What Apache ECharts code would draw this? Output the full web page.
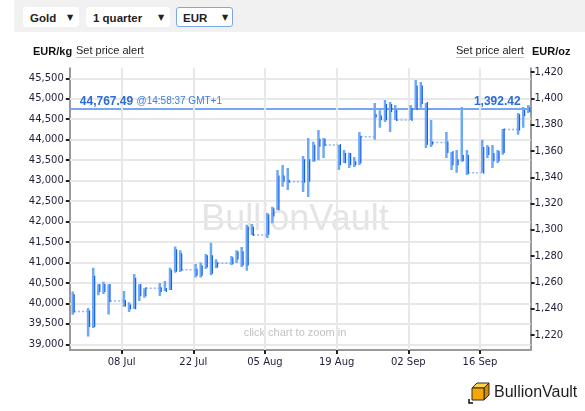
<!DOCTYPE html>
<html lang="en">
  <head>
    <meta charset="utf-8" />
    <title>Gold price in EUR - 1 quarter</title>
    <script src="https://cdn.jsdelivr.net/npm/echarts@6/dist/echarts.min.js"></script>
    <style>
      body {
        margin: 0;
        background: #fff;
        font-family: "Liberation Sans", Arial, sans-serif;
      }
      #chart {
        position: absolute;
        left: 0;
        top: 0;
        width: 585px;
        height: 411px;
      }
      .toolbar {
        position: absolute;
        left: 14px;
        top: 0;
        width: 571px;
        height: 32px;
        background: #f1f1f1;
        z-index: 2;
      }
      .dd {
        position: absolute;
        top: 7px;
        height: 20px;
        line-height: 20px;
        background: #fff;
        border: 1px solid #fff;
        border-radius: 3px;
        box-sizing: border-box;
        font-size: 11.5px;
        font-weight: bold;
        color: #222;
        padding-left: 6px;
      }
      .dd .arr {
        position: absolute;
        top: 0;
        font-size: 8px;
        font-family: "DejaVu Sans", sans-serif;
      }
      .dd.on {
        border-color: #7aa7ee;
      }
      .hd {
        position: absolute;
        top: 44px;
        font-size: 11px;
        line-height: 14px;
        color: #222;
        z-index: 2;
      }
      .hd.b {
        font-weight: bold;
        color: #111;
      }
      .hd.u {
        border-bottom: 1px solid #c4c4c4;
        line-height: 13px;
      }
    </style>
  </head>

  <body>
    <div id="chart"></div>
    <div class="toolbar"></div>
    <div class="dd" style="left: 23px; width: 56px; z-index: 3">
      Gold<span class="arr" style="left: 43px">&#9660;</span>
    </div>
    <div class="dd" style="left: 86px; width: 84px; z-index: 3">
      1 quarter<span class="arr" style="left: 71px">&#9660;</span>
    </div>
    <div class="dd on" style="left: 176px; width: 57px; z-index: 3">
      EUR<span class="arr" style="left: 45px">&#9660;</span>
    </div>
    <div class="hd b" style="left: 33px">EUR/kg</div>
    <div class="hd u" style="left: 76px">Set price alert</div>
    <div class="hd u" style="left: 456px">Set price alert</div>
    <div class="hd b" style="left: 532px">EUR/oz</div>

    <script type="text/javascript">
      // daily prices, EUR/kg
      var dates = [
        "2019-06-28",
        "2019-07-01", "2019-07-02", "2019-07-03", "2019-07-04", "2019-07-05",
        "2019-07-08", "2019-07-09", "2019-07-10", "2019-07-11", "2019-07-12",
        "2019-07-15", "2019-07-16", "2019-07-17", "2019-07-18", "2019-07-19",
        "2019-07-22", "2019-07-23", "2019-07-24", "2019-07-25", "2019-07-26",
        "2019-07-29", "2019-07-30", "2019-07-31", "2019-08-01", "2019-08-02",
        "2019-08-05", "2019-08-06", "2019-08-07", "2019-08-08", "2019-08-09",
        "2019-08-12", "2019-08-13", "2019-08-14", "2019-08-15", "2019-08-16",
        "2019-08-19", "2019-08-20", "2019-08-21", "2019-08-22", "2019-08-23",
        "2019-08-26", "2019-08-27", "2019-08-28", "2019-08-29", "2019-08-30",
        "2019-09-02", "2019-09-03", "2019-09-04", "2019-09-05", "2019-09-06",
        "2019-09-09", "2019-09-10", "2019-09-11", "2019-09-12", "2019-09-13",
        "2019-09-16", "2019-09-17", "2019-09-18", "2019-09-19", "2019-09-20",
        "2019-09-23", "2019-09-24", "2019-09-25"
      ];
      var opens = [
        40200,
        39800, 39450, 40450, 40300, 40450,
        40060, 39950, 39880, 40450, 40200,
        40370, 40300, 40350, 40800, 41200,
        40820, 40700, 40900, 41150, 40900,
        40980, 41100, 41250, 40950, 41850,
        41700, 42150, 42300, 43100, 43000,
        42970, 43500, 43500, 43850, 44000,
        43870, 43450, 43650, 43400, 43450,
        44600, 44570, 44500, 44850, 44700,
        44480, 44750, 45300, 44900, 43900,
        43930, 43700, 43400, 43500, 43600,
        43190, 43800, 43650, 43500, 43700,
        44250, 44600, 44700
      ];
      var closes = [
        39800,
        39450, 40650, 40300, 40450, 40060,
        39950, 39880, 40600, 40200, 40370,
        40300, 40350, 40800, 41300, 40820,
        40700, 40900, 41150, 40750, 40980,
        41100, 41250, 40950, 41850, 41670,
        42150, 42300, 43100, 43000, 42970,
        43500, 43000, 43850, 44000, 43870,
        43400, 43650, 43400, 43450, 44070,
        44570, 44500, 44850, 44700, 44480,
        44750, 45300, 44900, 43900, 43930,
        43700, 43400, 43500, 43600, 43190,
        43800, 43650, 43500, 43700, 44250,
        44600, 44700, 44770
      ];
      var lows = [
        39720,
        39190, 39400, 40200, 40230, 39730,
        39920, 39790, 39860, 40060, 40140,
        40180, 40300, 40330, 40750, 40770,
        40630, 40630, 40840, 40690, 40860,
        40940, 40990, 40890, 40800, 41670,
        41600, 41960, 42280, 42850, 42770,
        42720, 42600, 43460, 43500, 43550,
        43260, 43430, 43310, 43330, 43380,
        44000, 44290, 44430, 44190, 44480,
        44480, 44730, 44780, 43800, 43820,
        43550, 43260, 43190, 43460, 43140,
        43190, 43550, 43310, 43430, 43630,
        44120, 44290, 44650
      ];
      var highs = [
        40290,
        39890, 40870, 40470, 40530, 40470,
        40300, 40030, 40720, 40470, 40370,
        40500, 40550, 40870, 41390, 41300,
        40960, 41000, 41210, 41480, 41080,
        41160, 41300, 41380, 41920, 41940,
        42210, 42360, 43260, 43380, 43310,
        43600, 44040, 43950, 44240, 44040,
        43870, 43750, 43680, 43580, 44190,
        44900, 44720, 44970, 44920, 44850,
        44850, 45460, 45410, 44900, 44480,
        44190, 43700, 43750, 44800, 43750,
        44000, 43870, 43870, 43750, 44260,
        44650, 44800, 44850
      ];

      var tickDates = ["2019-07-08", "2019-07-22", "2019-08-05", "2019-08-19", "2019-09-02", "2019-09-16"];
      var tickLabels = ["08 Jul", "22 Jul", "05 Aug", "19 Aug", "02 Sep", "16 Sep"];
      var kgTicks = [39000, 39500, 40000, 40500, 41000, 41500, 42000, 42500, 43000, 43500, 44000, 44500, 45000, 45500];
      var ozTicks = [1220, 1240, 1260, 1280, 1300, 1320, 1340, 1360, 1380, 1400, 1420];

      var lastKg = 44767.49;
      var lastOz = 1392.42;
      var lastTime = "@14:58:37 GMT+1";

      var OZ_PER_KG = 32.1507;
      var kgMin = 38861;
      var kgMax = 45745;
      var viewStart = "2019-06-27T21:00:00Z";
      var viewEnd = "2019-09-25T21:30:00Z";

      var DAY = 86400000;
      var origin = Date.parse("2019-07-08");
      function dayNum(s) {
        return (Date.parse(s) - origin) / DAY;
      }
      function fmt(v, d) {
        return v.toLocaleString("en-US", { minimumFractionDigits: d, maximumFractionDigits: d });
      }

      var bars = [];
      for (var i = 0; i < dates.length; ++i) {
        bars.push([dayNum(dates[i]) + 0.5, opens[i], closes[i], lows[i], highs[i]]);
      }
      // dotted link over weekends, at Friday's close
      var gaps = [];
      for (var i = 1; i < dates.length; ++i) {
        var a = dayNum(dates[i - 1]);
        var b = dayNum(dates[i]);
        if (b - a > 1) {
          gaps.push([a + 0.7, closes[i - 1]], [b + 0.3, closes[i - 1]], [b + 0.5, "-"]);
        }
      }
      var tickX = tickDates.map(dayNum);
      // tick steps taken from the tick label lists
      var kgStep = kgTicks[1] - kgTicks[0];
      var ozStep = ozTicks[1] - ozTicks[0];

      var gridStyle = { color: "#e8e8e8", width: 2, type: "solid" };
      var priceStyle = { color: "#78a7ef", width: 2, type: "solid" };
      var boldBlue = { fontFamily: "Liberation Sans", fontSize: 12, fontWeight: "bold", color: "#2b6cd8" };
      var noText = { show: true, formatter: function () { return ""; } };

      // horizontal grid lines, last price line, vertical grid lines
      var lines = kgTicks.map(function (v) {
        return { yAxis: v, lineStyle: gridStyle, label: noText };
      });
      lines.push(
        {
          yAxis: lastKg,
          lineStyle: priceStyle,
          label: {
            show: true,
            position: "insideStartTop",
            distance: [10, 1],
            formatter: "{v|" + fmt(lastKg, 2) + "} {t|" + lastTime + "}",
            rich: {
              v: boldBlue,
              t: { fontFamily: "Liberation Sans", fontSize: 10, color: "#3b7ee2" },
            },
          },
        },
        {
          yAxis: lastKg,
          lineStyle: priceStyle,
          label: {
            show: true,
            position: "insideEndTop",
            distance: [10, 1],
            formatter: "{v|" + fmt(lastOz, 2) + "}",
            rich: { v: boldBlue },
          },
        }
      );
      tickX.forEach(function (v) {
        lines.push({ xAxis: v, lineStyle: gridStyle, label: noText });
      });

      var labelFont = { color: "#1e1e3a", fontSize: 10, fontFamily: "DejaVu Sans" };

      var myChart = echarts.init(document.getElementById("chart"));
      myChart.setOption({
        animation: false,
        grid: {
          left: 69.8,
          right: 54.4,
          top: 68.3,
          bottom: 61,
          outerBoundsMode: "none",
        },
        xAxis: {
          type: "value",
          min: dayNum(viewStart),
          max: dayNum(viewEnd),
          axisLine: { show: true, onZero: false, lineStyle: { color: "#9a9a9a", width: 2 } },
          axisTick: { show: true, customValues: tickX, length: 4, lineStyle: { color: "#222", width: 2 } },
          axisLabel: Object.assign({
            customValues: tickX,
            margin: 7,
            formatter: function (v) {
              var k = tickX.indexOf(v);
              return k < 0 ? "" : tickLabels[k];
            },
          }, labelFont),
          splitLine: { show: false },
        },
        yAxis: [
          {
            type: "value",
            position: "left",
            min: kgMin,
            max: kgMax,
            splitNumber: kgTicks.length,
            minInterval: kgStep,
            maxInterval: kgStep,
            axisLine: { show: true, onZero: false, lineStyle: { color: "#9a9a9a", width: 2 } },
            axisTick: { show: true, length: 4, lineStyle: { color: "#222", width: 2 } },
            axisLabel: Object.assign({
              showMinLabel: false,
              showMaxLabel: false,
              margin: 6,
              formatter: function (v) { return fmt(v, 0); },
            }, labelFont),
            splitLine: { show: true, showMinLine: false, showMaxLine: false, lineStyle: gridStyle },
          },
          {
            type: "value",
            position: "right",
            min: kgMin / OZ_PER_KG,
            max: kgMax / OZ_PER_KG,
            splitNumber: ozTicks.length,
            minInterval: ozStep,
            maxInterval: ozStep,
            axisLine: { show: true, onZero: false, lineStyle: { color: "#9a9a9a", width: 2 } },
            axisTick: { show: true, length: 4, lineStyle: { color: "#222", width: 2 } },
            axisLabel: Object.assign({
              showMinLabel: false,
              showMaxLabel: false,
              margin: 4,
              formatter: function (v) { return fmt(v, 0); },
            }, labelFont),
            splitLine: { show: false },
          },
        ],
        graphic: [
          {
            type: "text",
            x: 295,
            y: 220,
            z: 1,
            silent: true,
            style: {
              text: "BullionVault",
              font: '36px "Liberation Sans"',
              fill: "#e4e4e4",
              align: "center",
              verticalAlign: "middle",
              textAlign: "center",
              textVerticalAlign: "middle",
            },
          },
          {
            type: "text",
            x: 295,
            y: 333,
            z: 1,
            silent: true,
            style: {
              text: "click chart to zoom in",
              font: '11px "Liberation Sans"',
              fill: "#c2c2c2",
              align: "center",
              verticalAlign: "middle",
              textAlign: "center",
              textVerticalAlign: "middle",
            },
          },
          {
            type: "group",
            silent: true,
            children: [
              {
                type: "polygon",
                shape: { points: [[472, 388], [477, 383], [489, 383], [484, 388]] },
                style: { fill: "#ffd24a", stroke: "#2a2a2a", lineWidth: 1 },
              },
              {
                type: "polygon",
                shape: { points: [[484, 388], [489, 383], [489, 395], [484, 400]] },
                style: { fill: "#d68a00", stroke: "#2a2a2a", lineWidth: 1 },
              },
              {
                type: "rect",
                shape: { x: 472, y: 388, width: 12, height: 12 },
                style: { fill: "#f6a800", stroke: "#2a2a2a", lineWidth: 1 },
              },
              {
                type: "polyline",
                shape: { points: [[469, 399], [469, 403], [473, 403]] },
                style: { stroke: "#111", lineWidth: 1.5, fill: null },
              },
              {
                type: "text",
                x: 494,
                y: 393,
                style: {
                  text: "BullionVault",
                  font: '16px "Liberation Sans"',
                  fill: "#1e1e1e",
                  verticalAlign: "middle",
                  textVerticalAlign: "middle",
                },
              },
            ],
          },
        ],
        series: [
          {
            name: "EUR/kg",
            type: "custom",
            clip: true,
            z: 3,
            encode: { x: 0, y: [1, 2, 3, 4] },
            data: bars,
            renderItem: function (params, api) {
              var x = api.value(0);
              var o = api.coord([x, api.value(1)]);
              var c = api.coord([x, api.value(2)]);
              var l = api.coord([x, api.value(3)]);
              var h = api.coord([x, api.value(4)]);
              var top = Math.min(o[1], c[1]);
              var bot = Math.max(o[1], c[1]);
              return {
                type: "group",
                children: [
                  {
                    type: "rect",
                    shape: { x: o[0] - 1.5, y: h[1], width: 2.5, height: Math.max(l[1] - h[1], 1) },
                    style: { fill: "#6fa8f6" },
                  },
                  {
                    type: "line",
                    shape: { x1: o[0] + 1.2, y1: top - 1, x2: o[0] + 1.2, y2: bot + 1 },
                    style: { stroke: "#1560e8", lineWidth: 1.2 },
                  },
                ],
              };
            },
          },
          {
            name: "weekend",
            type: "line",
            z: 2,
            data: gaps,
            showSymbol: false,
            symbol: "none",
            connectNulls: false,
            lineStyle: { color: "#8fbaf5", width: 1.5, type: [2, 2] },
            markLine: {
              z: 1,
              symbol: "none",
              silent: true,
              data: lines,
            },
          },
        ],
      });
    </script>
  </body>
</html>
